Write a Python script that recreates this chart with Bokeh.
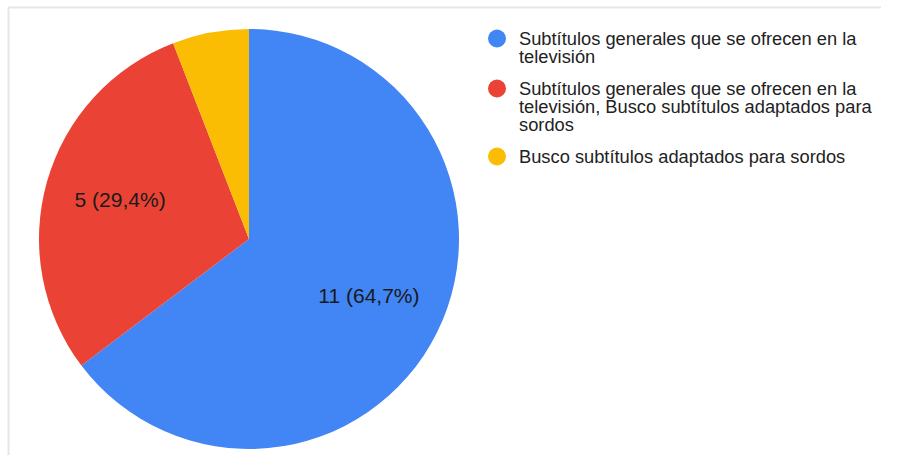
import math
from bokeh.plotting import figure
from bokeh.models import Range1d, BoxAnnotation, ColumnDataSource
from bokeh.core.properties import value
from bokeh.embed import file_html
from bokeh.resources import INLINE

# ---- data ----
categories = [
    "Subtítulos generales que se ofrecen en la televisión",
    "Subtítulos generales que se ofrecen en la televisión, Busco subtítulos adaptados para sordos",
    "Busco subtítulos adaptados para sordos",
]
legend_lines = [
    ["Subtítulos generales que se ofrecen en la", "televisión"],
    ["Subtítulos generales que se ofrecen en la", "televisión, Busco subtítulos adaptados para", "sordos"],
    ["Busco subtítulos adaptados para sordos"],
]
counts = [11, 5, 1]
colors = ["#4285F4", "#EA4335", "#FBBC04"]
show_label = [True, True, False]

# ---- layout (pixels) ----
W, H = 881, 455
FONT = "Liberation Sans"
cx, cy, R = 248.5, H - 238.5, 210
LABEL_D = 134
LABEL_DY = 3

total = sum(counts)
starts, ends, mids = [], [], []
acc = 0.0
for c in counts:
    f0 = acc / total
    acc += c
    f1 = acc / total
    starts.append(math.pi / 2 - 2 * math.pi * f0)
    ends.append(math.pi / 2 - 2 * math.pi * f1)
    mids.append(math.pi / 2 - 2 * math.pi * (f0 + f1) / 2)

p = figure(width=W, height=H, output_backend="svg", toolbar_location=None,
           x_range=Range1d(0, W), y_range=Range1d(0, H),
           x_axis_location=None, y_axis_location=None, min_border=0)
p.grid.visible = False
p.outline_line_color = None
p.background_fill_color = "white"
p.border_fill_color = "white"

src = ColumnDataSource(dict(start=starts, end=ends, color=colors, cat=categories, n=counts))
p.wedge(x=cx, y=cy, radius=R, radius_units="screen", start_angle="start", end_angle="end",
        direction="clock", fill_color="color", line_color=None, source=src)

# slice labels
lx, ly, lt = [], [], []
for c, m, s in zip(counts, mids, show_label):
    if not s:
        continue
    lx.append(cx + LABEL_D * math.cos(m))
    ly.append(cy + LABEL_D * math.sin(m) + LABEL_DY)
    pct = f"{100 * c / total:.1f}".replace(".", ",")
    lt.append(f"{c} ({pct}%)")
p.text(x=lx, y=ly, text=lt, text_align="center", text_baseline="middle",
       text_font=value(FONT), text_font_size="21px", text_color="#1a1a1a")

# legend
LINE_H = 18
GAP = 14
leg_x_dot, leg_x_txt = 496.5, 518.5
y0 = H - 38
dx, dy, tx, ty, tt = [], [], [], [], []
yb = y0
for lines in legend_lines:
    dx.append(leg_x_dot)
    dy.append(yb)
    for k, line in enumerate(lines):
        tx.append(leg_x_txt)
        ty.append(yb - k * LINE_H)
        tt.append(line)
    yb -= len(lines) * LINE_H + GAP
p.scatter(x=dx, y=dy, size=18, marker="circle", fill_color=colors, line_color=None)
p.text(x=tx, y=ty, text=tt, text_align="left", text_baseline="alphabetic",
       text_font=value(FONT), text_font_size="18.3px", text_color="#222222")

# frame lines (left & top), open towards right and bottom
p.add_layout(BoxAnnotation(left=8, right=W + 20, top=H - 7, bottom=-20,
                           fill_alpha=0, fill_color=None,
                           line_color="#ababab", line_width=2))

open("out.html", "w").write(file_html(p, INLINE))
